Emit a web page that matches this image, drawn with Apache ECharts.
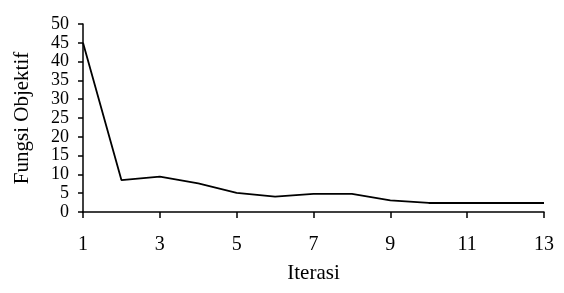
<!DOCTYPE html>
<html>
<head>
<meta charset="utf-8">
<script src="https://cdn.jsdelivr.net/npm/echarts@6/dist/echarts.min.js"></script>
<style>
	html, body { margin: 0; padding: 0; background: #fff; }
	#lineChart { width: 564px; height: 293px; }
</style>
</head>
<body>
<div id="lineChart"></div>
<script>
'use strict';

var iterasi = [1, 2, 3, 4, 5, 6, 7, 8, 9, 10, 11, 12, 13],
		fungsiObjektif = [45, 8.5, 9.4, 7.6, 5.1, 4.1, 4.8, 4.8, 3.1, 2.4, 2.4, 2.4, 2.4],
		yTicks = [0, 50, 5],
		xTicks = [1, 13, 2];

var chart = echarts.init(document.getElementById('lineChart'));

var font = 'Liberation Serif, Times New Roman, serif';

var points = iterasi.map(function (x, i) { return [x, fungsiObjektif[i]]; });

var options = {
	animation: false,
	backgroundColor: '#fff',
	grid: { left: 83, right: 20, top: 24, bottom: 81 },
	xAxis: {
		type: 'value',
		min: xTicks[0],
		max: xTicks[1],
		interval: xTicks[2],
		name: 'Iterasi',
		nameLocation: 'middle',
		nameGap: 51,
		nameTextStyle: { color: '#000', fontFamily: font, fontSize: 21 },
		axisLine: { show: true, lineStyle: { color: '#000', width: 1.5 } },
		axisTick: { show: true, inside: false, length: 6, lineStyle: { color: '#000', width: 1.5 } },
		axisLabel: { color: '#000', fontFamily: font, fontSize: 20, margin: 23, showMinLabel: true, showMaxLabel: true },
		splitLine: { show: false }
	},
	yAxis: {
		type: 'value',
		min: yTicks[0],
		max: yTicks[1],
		interval: yTicks[2],
		name: 'Fungsi Objektif',
		nameLocation: 'middle',
		nameGap: 50,
		nameTextStyle: { color: '#000', fontFamily: font, fontSize: 21 },
		axisLine: { show: true, lineStyle: { color: '#000', width: 1.5 } },
		axisTick: { show: true, inside: false, length: 5, lineStyle: { color: '#000', width: 1.5 } },
		axisLabel: {
			color: '#000', fontFamily: font, fontSize: 18, margin: 14,
			showMinLabel: true, showMaxLabel: true, hideOverlap: false
		},
		splitLine: { show: false }
	},
	series: [
		{
			name: 'Fungsi Objektif',
			type: 'line',
			data: points,
			showSymbol: false,
			lineStyle: { color: '#000', width: 1.8 }
		}
	]
};

chart.setOption(options);
</script>
</body>
</html>
